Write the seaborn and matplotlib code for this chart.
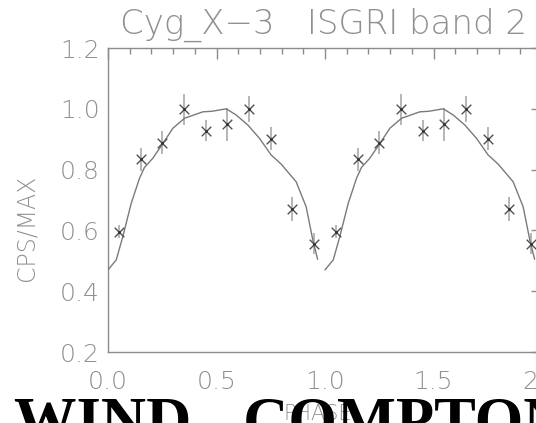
import numpy as np
import pandas as pd
import matplotlib
matplotlib.use("Agg")
import matplotlib.pyplot as plt
import seaborn as sns
from matplotlib import font_manager

# ---- data (one orbital cycle; plotted twice, phase 0-2) ----
bin_phase = [0.05, 0.15, 0.25, 0.35, 0.45, 0.55, 0.65, 0.75, 0.85, 0.95]
bin_rate = [0.596, 0.834, 0.889, 0.998, 0.928, 0.949, 1.000, 0.902, 0.670, 0.556]
bin_err = [0.022, 0.037, 0.037, 0.050, 0.035, 0.055, 0.042, 0.039, 0.039, 0.035]

model_phase = [0.000, 0.038, 0.068, 0.107, 0.145, 0.168, 0.206, 0.253, 0.299,
               0.353, 0.437, 0.480, 0.545, 0.590, 0.644, 0.698, 0.752, 0.798,
               0.867, 0.913, 0.944, 0.966]
model_rate = [0.470, 0.503, 0.579, 0.689, 0.771, 0.807, 0.837, 0.886, 0.936,
              0.969, 0.990, 0.992, 1.000, 0.980, 0.947, 0.903, 0.848, 0.818,
              0.760, 0.678, 0.568, 0.505]

x_ticks = [0.0, 0.5, 1.0, 1.5, 2.0]
y_ticks = [0.2, 0.4, 0.6, 0.8, 1.0, 1.2]
title_text = "Cyg_X\u22123   ISGRI band 2"
x_title = "PHASE"
y_title = "CPS/MAX"
caption = "WIND - COMPTON"

# ---- tables ----
pts = pd.DataFrame({
    "phase": np.concatenate([bin_phase, np.array(bin_phase) + 1.0]),
    "rate": np.concatenate([bin_rate, bin_rate]),
    "err": np.concatenate([bin_err, bin_err]),
})
mdl = pd.DataFrame({
    "phase": np.concatenate([model_phase, np.array(model_phase) + 1.0]),
    "rate": np.concatenate([model_rate, model_rate]),
    "cycle": [0] * len(model_phase) + [1] * len(model_phase),
})

sns.set_style("white")
plt.rcParams["font.family"] = ["DejaVu Sans"]

# pick a thin sans weight if available
light = None
for f in font_manager.fontManager.ttflist:
    if f.name in ("DejaVu Sans", "Lato", "Open Sans", "Roboto", "Noto Sans") and \
            (f.weight in (100, 200, 300, "light", "ultralight", "extra-light", "thin")):
        light = (f.name, f.weight)
        break
if light is not None:
    FAM, FW = light[0], light[1]
else:
    FAM, FW = "DejaVu Sans", "normal"
plt.rcParams["font.family"] = [FAM, "DejaVu Sans"]

GREY = "#8c8c8c"
TXT = "#909090"
fig = plt.figure(figsize=(5.36, 4.23), dpi=100)
ax = fig.add_axes([108 / 536, 1 - 352 / 423, 434 / 536, 304 / 423])

ax.errorbar(pts["phase"], pts["rate"], yerr=pts["err"], fmt="none",
            ecolor="#b0b0b0", elinewidth=1.3, capsize=0, zorder=2)
sns.lineplot(data=mdl, x="phase", y="rate", units="cycle", estimator=None,
             sort=False, color="#7a7a7a", linewidth=1.0, ax=ax, zorder=3)
sns.scatterplot(data=pts, x="phase", y="rate", marker="x", s=48,
                color="#505050", linewidth=1.0, ax=ax, zorder=4)
sns.scatterplot(data=pts, x="phase", y="rate", marker="o", s=4,
                color="#303030", linewidth=0, ax=ax, zorder=5)

ax.set_xlim(0, 2)
ax.set_ylim(0.2, 1.2)
ax.set_xticks(x_ticks)
ax.set_xticklabels([f"{t:.1f}" for t in x_ticks], fontweight=FW)
ax.set_yticks(y_ticks)
ax.set_yticklabels([f"{t:.1f}" for t in y_ticks], fontweight=FW)
ax.set_xticks(np.arange(0, 2.0001, 0.1), minor=True)
ax.set_yticks(np.arange(0.2, 1.2001, 0.05), minor=True)
ax.set_xlabel("")
ax.set_ylabel("")

ax.tick_params(which="both", direction="in", top=True, right=True,
               color=GREY, width=1.0)
ax.tick_params(which="major", length=8)
ax.tick_params(which="minor", length=4)
ax.tick_params(axis="x", which="major", pad=13, labelsize=18, labelcolor=TXT)
ax.tick_params(axis="y", which="major", pad=6, labelsize=18, labelcolor=TXT)
for sp in ax.spines.values():
    sp.set_color(GREY)
    sp.set_linewidth(1.0)

fig.text(323 / 536, 1 - 34 / 423, title_text, ha="center", va="baseline",
         fontsize=24.5, color=TXT, fontweight=FW)
fig.text(26 / 536, 1 - 228 / 423, y_title, ha="center", va="center",
         rotation=90, fontsize=17, color=TXT, fontweight=FW)
fig.text(318 / 536, 1 - 404 / 423, x_title, ha="center", va="top",
         fontsize=15, color=TXT, fontweight=FW)
fig.text(14 / 536, 1 - 440 / 423, caption, ha="left", va="baseline",
         fontsize=45, fontweight="bold", color="black",
         family=["Liberation Serif", "DejaVu Serif"])

fig.savefig("out.png", dpi=100)
